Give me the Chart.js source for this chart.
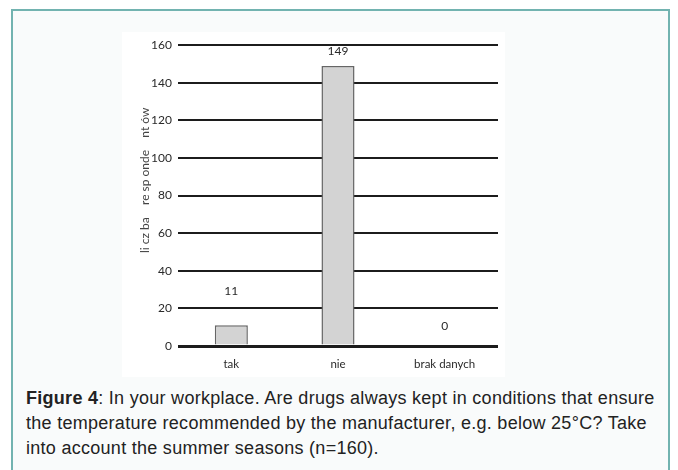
<!DOCTYPE html>
<html>
<head>
<meta charset="utf-8">
<script src="https://cdn.jsdelivr.net/npm/chart.js@4"></script>
<style>
    html, body { margin: 0; padding: 0; background: #ffffff; }
    body { width: 678px; height: 470px; position: relative; overflow: hidden; font-family: "Liberation Sans", Arial, sans-serif; }
    .marco {
        position: absolute; left: 11px; top: 9px; width: 659px; height: 480px;
        border: 2px solid #72b3b0; background: #f9fbfb; box-sizing: border-box;
    }
    .lienzo {
        position: absolute; left: 122px; top: 32px; width: 383px; height: 345px; background: #ffffff;
    }
    .pie {
        position: absolute; left: 26px; top: 386px; width: 650px; white-space: nowrap;
        font-size: 18px; line-height: 25px; letter-spacing: 0.28px; color: #222222;
    }
</style>
</head>
<body>
<div class="marco"></div>
<div class="lienzo"><canvas id="grafico"></canvas></div>
<div class="pie"><b>Figure 4</b>: In your workplace. Are drugs always kept in conditions that ensure<br>the temperature recommended by the manufacturer, e.g. below 25°C? Take<br>into account the summer seasons (n=160).</div>

<script>
// Datos del gráfico
const categorias = ['tak', 'nie', 'brak danych'];
const valores = [11, 149, 0];
const ticksY = [0, 20, 40, 60, 80, 100, 120, 140, 160];
const tituloY = '          li cz ba    re sp onde    nt ów';

// desplazamiento de cada etiqueta sobre la barra (px)
const elevacionEtiquetas = [34, 15, 20];

const fuente = 'Lato, "Open Sans", sans-serif';

// Etiquetas de valores encima de las barras
const etiquetasPlugin = {
    id: 'etiquetas',
    afterDatasetsDraw(chart) {
        const ctx = chart.ctx;
        const meta = chart.getDatasetMeta(0);
        ctx.save();
        ctx.font = '12px ' + fuente;
        ctx.fillStyle = '#2a2a2a';
        ctx.textAlign = 'center';
        ctx.textBaseline = 'middle';
        meta.data.forEach((barra, i) => {
            ctx.fillText(String(valores[i]), barra.x, barra.y - elevacionEtiquetas[i]);
        });
        ctx.restore();
    }
};

const grafico = new Chart(document.getElementById('grafico').getContext('2d'), {
    type: 'bar',
    data: {
        labels: categorias,
        datasets: [{
            data: valores,
            backgroundColor: '#d3d3d3',
            borderColor: '#666666',
            borderWidth: 1.5,
            borderSkipped: 'bottom',
            barPercentage: 0.31,
            categoryPercentage: 1
        }]
    },
    options: {
        responsive: true,
        maintainAspectRatio: false,
        animation: false,
        layout: { padding: { left: 10, right: 7, top: 12, bottom: 6 } },
        plugins: {
            legend: { display: false },
            tooltip: { enabled: false }
        },
        scales: {
            x: {
                grid: { display: false },
                border: { display: false },
                ticks: { color: '#2a2a2a', font: { family: fuente, size: 11.5 }, padding: 3 },
                afterFit(scale) { scale.height = 25; }
            },
            y: {
                min: 0,
                max: 160,
                afterBuildTicks(scale) { scale.ticks = ticksY.map(v => ({ value: v })); },
                grid: {
                    color: '#1c1c1c',
                    lineWidth: (c) => (c.tick && c.tick.value === 0 ? 3 : 2),
                    drawTicks: false
                },
                border: { display: false },
                ticks: { color: '#2a2a2a', font: { family: fuente, size: 12 }, padding: 6 },
                title: {
                    display: true,
                    text: tituloY,
                    color: '#444444',
                    font: { family: fuente, size: 12 },
                    padding: { top: 6, bottom: 0 }
                },
                afterFit(scale) { scale.width = 46; }
            }
        }
    },
    plugins: [etiquetasPlugin]
});
</script>
</body>
</html>
